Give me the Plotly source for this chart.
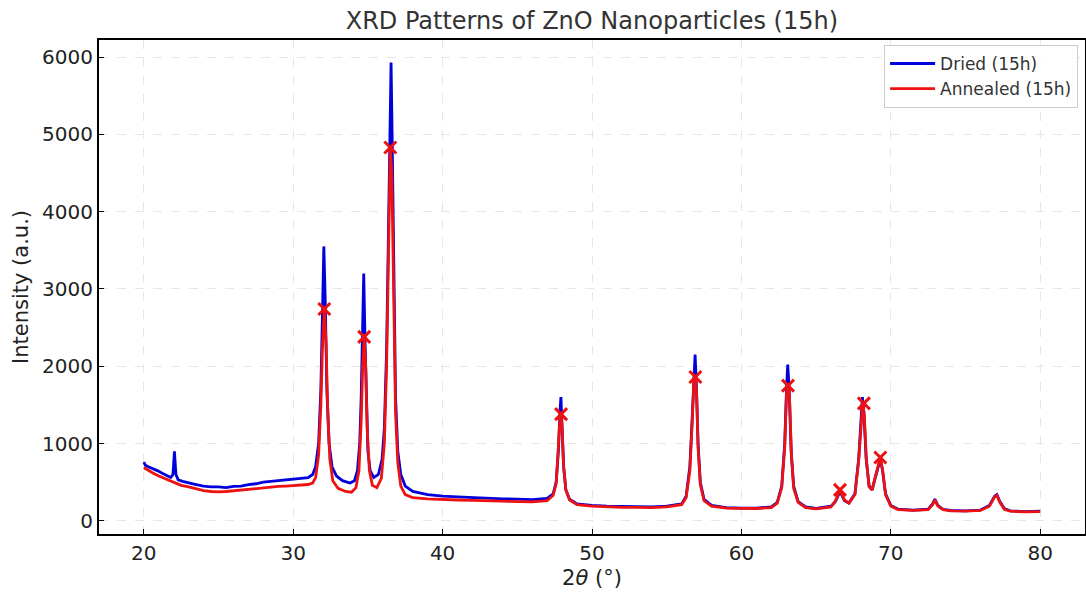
import plotly.graph_objects as go

# ---- data ----
two_theta_dried = [20.0, 20.1, 20.3, 20.6, 20.9, 21.2, 21.5, 21.8, 21.95, 22.05, 22.15, 22.3, 22.6, 23.0, 23.5,
                   24.0, 24.5, 25.0, 25.5, 26.0, 26.5, 27.0, 27.5, 28.0, 28.5, 29.0, 29.5, 30.0, 30.5, 31.0,
                   31.3, 31.5, 31.7, 31.85, 31.95, 32.05, 32.15, 32.25, 32.4, 32.6, 32.9, 33.3, 33.8, 34.1,
                   34.3, 34.45, 34.55, 34.65, 34.72, 34.8, 34.9, 35.0, 35.15, 35.4, 35.7, 35.95, 36.1, 36.25,
                   36.38, 36.48, 36.55, 36.62, 36.72, 36.85, 37.0, 37.2, 37.5, 38.0, 39.0, 40.0, 41.0, 42.0,
                   43.0, 44.0, 45.0, 46.0, 47.0, 47.4, 47.6, 47.75, 47.85, 47.92, 48.0, 48.1, 48.25, 48.5,
                   49.0, 50.0, 51.0, 52.0, 53.0, 54.0, 55.0, 56.0, 56.3, 56.55, 56.7, 56.82, 56.9, 56.98,
                   57.1, 57.25, 57.5, 58.0, 59.0, 60.0, 61.0, 62.0, 62.4, 62.7, 62.9, 63.02, 63.1, 63.2,
                   63.33, 63.5, 63.8, 64.3, 65.0, 66.0, 66.3, 66.6, 66.9, 67.2, 67.6, 67.85, 68.0, 68.1,
                   68.2, 68.35, 68.55, 68.75, 68.95, 69.15, 69.3, 69.45, 69.65, 70.0, 70.5, 71.5, 72.5,
                   72.8, 72.95, 73.15, 73.5, 74.0, 75.0, 76.0, 76.6, 76.95, 77.1, 77.3, 77.6, 78.0, 79.0, 80.0]
intensity_dried = [760, 720, 700, 680, 650, 620, 590, 560, 600, 900, 600, 530, 510, 490, 470,
                   450, 440, 440, 430, 445, 450, 470, 480, 500, 510, 520, 530, 540, 550, 560,
                   600, 700, 1000, 1700, 2600, 3550, 2800, 1700, 1000, 700, 580, 520, 490, 520,
                   650, 1000, 1600, 2600, 3200, 2400, 1400, 900, 650, 560, 600, 800, 1200, 2200,
                   3800, 5500, 5930, 5000, 3200, 1600, 900, 600, 450, 380, 340, 320, 310, 300,
                   295, 285, 280, 275, 290, 350, 500, 900, 1400, 1600, 1200, 700, 400, 280,
                   220, 200, 190, 185, 180, 180, 190, 220, 320, 700, 1300, 1900, 2150, 1800,
                   1000, 500, 280, 200, 170, 165, 165, 180, 240, 450, 1000, 1700, 2020, 1700,
                   900, 450, 250, 180, 160, 190, 250, 380, 260, 230, 350, 800, 1300, 1600,
                   1400, 800, 450, 400, 550, 700, 800, 650, 350, 200, 150, 140, 150,
                   220, 280, 200, 150, 135, 130, 140, 200, 320, 340, 250, 160, 130, 120, 125]

two_theta_annealed = [20.0, 20.3, 20.6, 21.0, 21.5, 22.0, 22.5, 23.0, 23.5, 24.0, 24.5, 25.0, 25.5, 26.0,
                      26.5, 27.0, 27.5, 28.0, 28.5, 29.0, 29.5, 30.0, 30.5, 31.0, 31.3, 31.5, 31.7, 31.85,
                      31.95, 32.08, 32.2, 32.3, 32.45, 32.65, 33.0, 33.5, 33.9, 34.2, 34.4, 34.55, 34.65,
                      34.75, 34.85, 34.95, 35.1, 35.3, 35.6, 35.9, 36.1, 36.25, 36.38, 36.5, 36.6, 36.7,
                      36.85, 37.0, 37.2, 37.5, 38.0, 39.0, 40.0, 41.0, 42.0, 43.0, 44.0, 45.0, 46.0, 47.0,
                      47.4, 47.6, 47.75, 47.85, 47.93, 48.0, 48.1, 48.25, 48.5, 49.0, 50.0, 51.0, 52.0,
                      53.0, 54.0, 55.0, 56.0, 56.3, 56.55, 56.7, 56.82, 56.92, 57.0, 57.1, 57.25, 57.5,
                      58.0, 59.0, 60.0, 61.0, 62.0, 62.4, 62.7, 62.9, 63.02, 63.12, 63.22, 63.35, 63.5,
                      63.8, 64.3, 65.0, 66.0, 66.3, 66.6, 66.9, 67.2, 67.6, 67.85, 68.0, 68.12, 68.22,
                      68.37, 68.55, 68.75, 68.95, 69.15, 69.3, 69.45, 69.65, 70.0, 70.5, 71.5, 72.5, 72.8,
                      72.95, 73.15, 73.5, 74.0, 75.0, 76.0, 76.6, 76.95, 77.1, 77.3, 77.6, 78.0, 79.0, 80.0]
intensity_annealed = [690, 650, 620, 580, 540, 500, 460, 440, 410, 390, 380, 375, 380, 390,
                      400, 410, 420, 430, 440, 445, 450, 455, 460, 470, 490, 560, 850, 1500,
                      2200, 2740, 2300, 1500, 800, 520, 420, 380, 370, 430, 650, 1300, 2000,
                      2380, 2000, 1200, 650, 460, 430, 550, 1000, 2000, 3500, 4820, 4500, 3000,
                      1400, 750, 450, 340, 300, 285, 275, 270, 265, 260, 255, 250, 245, 260,
                      330, 480, 900, 1300, 1380, 1200, 700, 400, 270, 210, 190, 180, 175,
                      175, 170, 180, 210, 300, 650, 1250, 1800, 1860, 1650, 950, 470, 260,
                      190, 165, 160, 160, 170, 230, 430, 950, 1650, 1750, 1600, 850, 420,
                      240, 170, 155, 180, 260, 400, 270, 230, 340, 780, 1250, 1520, 1380,
                      780, 440, 400, 560, 720, 820, 660, 340, 190, 145, 135, 145, 210,
                      270, 190, 145, 130, 125, 135, 190, 310, 330, 240, 150, 125, 115, 120]

peak_theta = [32.08, 34.75, 36.5, 47.93, 56.92, 63.12, 66.6, 68.2, 69.3]
peak_intensity = [2740, 2380, 4830, 1380, 1860, 1750, 400, 1520, 820]

x_ticks = [20, 30, 40, 50, 60, 70, 80]
y_ticks = [0, 1000, 2000, 3000, 4000, 5000, 6000]

font_family = "DejaVu Sans, Arial, sans-serif"

fig = go.Figure()
fig.add_trace(go.Scatter(x=two_theta_dried, y=intensity_dried, mode="lines",
                         line=dict(color="#0000dd", width=2.8), name="Dried (15h)"))
fig.add_trace(go.Scatter(x=two_theta_annealed, y=intensity_annealed, mode="lines",
                         line=dict(color="#ee1111", width=2.8), name="Annealed (15h)"))
fig.add_trace(go.Scatter(x=peak_theta, y=peak_intensity, mode="markers", showlegend=False,
                         marker=dict(symbol="x-thin", size=12, color="#ee1111",
                                     line=dict(color="#ee1111", width=3))))

axis_common = dict(
    showline=True, linecolor="black", linewidth=2, mirror=True,
    ticks="inside", ticklen=5, tickwidth=1.2, tickcolor="black",
    showgrid=True, gridcolor="#e6e6e6", griddash="dash", gridwidth=1,
    zeroline=False, automargin=False,
    tickfont=dict(size=20, color="#222", family=font_family),
)

fig.update_layout(
    width=1086, height=592,
    margin=dict(l=99, r=1, t=40, b=58, autoexpand=False),
    paper_bgcolor="white", plot_bgcolor="white",
    font=dict(family=font_family, color="#222"),
    title=dict(text="XRD Patterns of ZnO Nanoparticles (15h)", x=0.545, xanchor="center",
               y=0.965, yanchor="middle", automargin=False, font=dict(size=24, color="#333")),
    xaxis=dict(range=[17, 83], tickvals=x_ticks,
               title=dict(text="2<i>θ</i> (°)", font=dict(size=21, color="#222"), standoff=6),
               **axis_common),
    yaxis=dict(range=[-170, 6220], tickvals=y_ticks,
               title=dict(text="Intensity (a.u.)", font=dict(size=21, color="#222"), standoff=8),
               **axis_common),
    legend=dict(x=0.993, y=0.99, xanchor="right", yanchor="top", itemwidth=45,
                bgcolor="rgba(255,255,255,0.9)", bordercolor="#cccccc", borderwidth=1,
                font=dict(size=17, color="#333", family=font_family), tracegroupgap=2),
)

fig.write_html("out.html", config={"displayModeBar": False},
               post_script="document.body.style.margin='0';document.body.style.overflow='hidden';")
